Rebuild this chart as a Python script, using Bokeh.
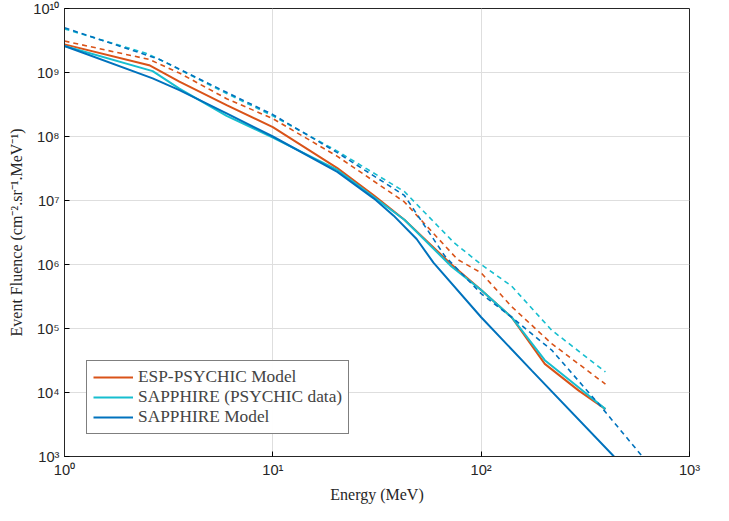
from bokeh.plotting import figure
from bokeh.models import Legend, LegendItem, Range1d
from bokeh.embed import file_html
from bokeh.resources import INLINE

# ESP-PSYCHIC model (orange)
esp_e = [1, 2.55, 3.56, 6, 10, 20.4, 30.6, 42.8, 72, 100, 140, 202, 294, 395]
esp_f = [2.75e9, 1.3e9, 7.2e8, 3.1e8, 1.4e8, 3.2e7, 1.2e7, 5e6, 1e6, 4e5, 1.5e5, 2.8e4, 1.07e4, 5.5e3]
esp_de = [1, 2.55, 3.56, 6, 10, 20.4, 42.8, 77, 100, 140, 218, 395]
esp_df = [3.1e9, 1.6e9, 9.8e8, 3.9e8, 1.9e8, 4.9e7, 9.5e6, 1.2e6, 7.4e5, 2.2e5, 5.8e4, 1.35e4]

# SAPPHIRE with PSYCHIC data (cyan)
psy_e = [1, 2.65, 3.56, 6, 10, 20.4, 42.8, 72, 100, 140, 202, 294, 395]
psy_f = [2.6e9, 1.05e9, 5.6e8, 2.1e8, 9.6e7, 3.0e7, 5e6, 9.3e5, 4e5, 1.5e5, 3.2e4, 1.2e4, 5.5e3]
psy_de = [1, 2.46, 2.86, 6, 10, 20.4, 42.8, 74, 100, 140, 218, 395]
psy_df = [4.8e9, 2.0e9, 1.6e9, 4.7e8, 2.1e8, 5.9e7, 1.38e7, 2.2e6, 1e6, 4.6e5, 9.4e4, 2.1e4]

# SAPPHIRE model (blue)
sap_e = [1, 2.65, 3.56, 6, 10, 20.4, 30.6, 38, 49, 59, 100, 175, 434, 520]
sap_f = [2.6e9, 8.1e8, 5.3e8, 2.3e8, 1e8, 2.8e7, 1.07e7, 5.8e6, 2.5e6, 1.07e6, 1.5e5, 2.2e4, 1.0e3, 6e2]
sap_de = [1, 2.86, 6, 10, 20.4, 42.8, 67, 100, 140, 218, 367, 594, 700]
sap_df = [5e9, 1.6e9, 4.9e8, 2.2e8, 5.6e7, 1.2e7, 1.35e6, 3.5e5, 1.5e5, 4.6e4, 6.6e3, 1.0e3, 5.5e2]

labels = ["ESP-PSYCHIC Model", "SAPPHIRE (PSYCHIC data)", "SAPPHIRE Model"]
colors = ["#D95319", "#17BECF", "#0072BD"]

x_ticks = [1, 10, 100, 1000]
y_ticks = [1e3, 1e4, 1e5, 1e6, 1e7, 1e8, 1e9, 1e10]
x_tick_labels = ["10⁰", "10¹", "10²", "10³"]
y_tick_labels = ["10³", "10⁴", "10⁵", "10⁶", "10⁷", "10⁸", "10⁹", "10¹⁰"]

p = figure(width=713, height=505, x_axis_type="log", y_axis_type="log",
           x_range=Range1d(1, 1000), y_range=Range1d(1e3, 1e10),
           output_backend="svg", toolbar_location=None,
           min_border_left=64, min_border_right=24, min_border_top=8, min_border_bottom=40)

sets = [(esp_e, esp_f, esp_de, esp_df), (psy_e, psy_f, psy_de, psy_df), (sap_e, sap_f, sap_de, sap_df)]
items = []
for (e, f, de, df), c, lab in zip(sets, colors, labels):
    r = p.line(e, f, line_color=c, line_width=2)
    p.line(de, df, line_color=c, line_width=1.6, line_dash="5 4")
    items.append(LegendItem(label=lab, renderers=[r]))

legend = Legend(items=items, location="bottom_left", label_text_font="Liberation Serif",
                label_text_font_size="13pt", border_line_color="black", border_line_width=1,
                glyph_width=40, spacing=0, padding=6, margin=22, label_height=18)
p.add_layout(legend)

for ax in [p.xaxis[0], p.yaxis[0]]:
    ax.major_tick_in = 5
    ax.major_tick_out = 0
    ax.minor_tick_in = 3
    ax.minor_tick_out = 0
    ax.major_label_text_font = "Liberation Sans"
    ax.major_label_text_font_size = "11pt"
    ax.major_label_text_color = "#262626"
    ax.axis_label_text_font = "Liberation Serif"
    ax.axis_label_text_font_style = "normal"
    ax.axis_label_text_font_size = "12pt"
    ax.axis_label_text_color = "#262626"
    ax.axis_line_color = "#262626"

p.xaxis.ticker = x_ticks
p.xaxis.major_label_overrides = dict(zip(x_ticks, x_tick_labels))
p.yaxis.ticker = y_ticks
p.yaxis.major_label_overrides = dict(zip(y_ticks, y_tick_labels))
p.xaxis.axis_label = "Energy (MeV)"
p.yaxis.axis_label = "Event Fluence (cm⁻².sr⁻¹.MeV⁻¹)"

p.grid.grid_line_color = "#DEDEDE"
p.outline_line_color = "#262626"

open("out.html", "w").write(file_html(p, INLINE))
